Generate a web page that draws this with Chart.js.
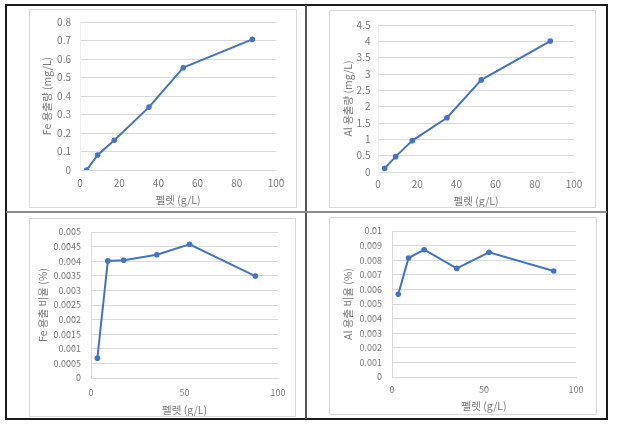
<!DOCTYPE html>
<html>
<head>
<meta charset="utf-8">
<script src="https://cdn.jsdelivr.net/npm/chart.js@4/dist/chart.umd.min.js"></script>
<style>
  html, body { margin: 0; padding: 0; background: #fff; }
  #stage { position: relative; width: 617px; height: 427px; background: #fff; overflow: hidden; }
  .abs { position: absolute; box-sizing: border-box; }
  canvas { position: absolute; }
</style>
</head>
<body>
<div id="stage">
  <div class="abs" style="left:5px;top:4px;width:603px;height:416px;border:2px solid #1a1a1a;"></div>
  <div class="abs" style="left:305px;top:5px;width:2px;height:414px;background:#555;"></div>
  <div class="abs" style="left:6px;top:211px;width:601px;height:2px;background:#8a8a8a;"></div>

  <canvas id="c1" width="268" height="199" style="left:29px;top:9px;"></canvas>
  <canvas id="c2" width="267" height="198" style="left:329px;top:10px;"></canvas>
  <canvas id="c3" width="267" height="199" style="left:29px;top:218px;"></canvas>
  <canvas id="c4" width="268" height="198" style="left:329px;top:217px;"></canvas>

  <div class="abs" style="left:29px;top:9px;width:268px;height:199px;border:1px solid #d9d9d9;"></div>
  <div class="abs" style="left:329px;top:10px;width:267px;height:198px;border:1px solid #d9d9d9;"></div>
  <div class="abs" style="left:29px;top:218px;width:267px;height:199px;border:1px solid #d9d9d9;"></div>
  <div class="abs" style="left:329px;top:217px;width:268px;height:198px;border:1px solid #d9d9d9;"></div>
</div>
<script>
// ---- data ----
const pelletX = [3.4, 9.0, 17.5, 35.2, 52.7, 87.9];           // 펠렛 (g/L)
const feConc  = [0.0, 0.081, 0.161, 0.34, 0.553, 0.706];      // Fe 용출량 (mg/L)
const alConc  = [0.11, 0.47, 0.96, 1.66, 2.82, 4.01];         // Al 용출량 (mg/L)
const feRatio = [0.00068, 0.00401, 0.00403, 0.00422, 0.00458, 0.00349]; // Fe 용출 비율 (%)
const alRatio = [0.00566, 0.00815, 0.00872, 0.00744, 0.00854, 0.00726]; // Al 용출 비율 (%)

const xTicksTop    = ['0', '20', '40', '60', '80', '100'];
const xTicksBottom = ['0', '50', '100'];
const yTicksFeConc = ['0', '0.1', '0.2', '0.3', '0.4', '0.5', '0.6', '0.7', '0.8'];
const yTicksAlConc = ['0', '0.5', '1', '1.5', '2', '2.5', '3', '3.5', '4', '4.5'];
const yTicksFeRatio = ['0', '0.0005', '0.001', '0.0015', '0.002', '0.0025', '0.003', '0.0035', '0.004', '0.0045', '0.005'];
const yTicksAlRatio = ['0', '0.001', '0.002', '0.003', '0.004', '0.005', '0.006', '0.007', '0.008', '0.009', '0.01'];

const xTitle = '펠렛 (g/L)';
const yTitles = ['Fe 용출량 (mg/L)', 'Al 용출량 (mg/L)', 'Fe 용출 비율 (%)', 'Al 용출 비율 (%)'];

const FONT = '"Noto Sans CJK KR", "Noto Sans", sans-serif';
const BLUE = '#4472C4';
const GRID = '#d9d9d9';
const TXT = '#7a7a7a';

function makeChart(id, ys, yTicks, xTicks, ytitle, L) {
  const xt = xTicks.map(parseFloat);
  const yt = yTicks.map(parseFloat);
  new Chart(document.getElementById(id), {
    type: 'line',
    data: {
      datasets: [{
        data: pelletX.map((x, i) => ({ x: x, y: ys[i] })),
        borderColor: BLUE,
        backgroundColor: BLUE,
        borderWidth: 2,
        pointRadius: 2.8,
        pointBorderWidth: 0,
        pointBackgroundColor: BLUE,
        tension: 0
      }]
    },
    options: {
      responsive: false,
      animation: false,
      devicePixelRatio: 1,
      plugins: { legend: { display: false }, tooltip: { enabled: false } },
      layout: { padding: { left: 0, right: L.right, top: L.top, bottom: 0 } },
      scales: {
        x: {
          type: 'linear',
          min: xt[0], max: xt[xt.length - 1],
          grid: { display: false, drawTicks: false },
          border: { display: true, color: GRID, width: 1 },
          afterBuildTicks: s => { s.ticks = xt.map(v => ({ value: v })); },
          afterFit: s => { s.height = L.xh; s.paddingLeft = 0; s.paddingRight = 0; },
          ticks: {
            autoSkip: false, maxRotation: 0, padding: L.xpad,
            color: TXT, font: { family: FONT, size: L.fs },
            callback: (v, i) => xTicks[i]
          },
          title: {
            display: true, text: xTitle, color: TXT,
            font: { family: FONT, size: L.ts },
            padding: { top: 0, bottom: L.xtb }
          }
        },
        y: {
          type: 'linear',
          min: yt[0], max: yt[yt.length - 1],
          grid: { color: GRID, lineWidth: 1, drawTicks: false },
          border: { display: true, color: L.ycol, width: 1 },
          afterBuildTicks: s => { s.ticks = yt.map(v => ({ value: v })); },
          afterFit: s => { s.width = L.left; s.paddingTop = 0; s.paddingBottom = 0; },
          ticks: {
            autoSkip: false, padding: L.ypad,
            color: TXT, font: { family: FONT, size: L.fs },
            callback: (v, i) => yTicks[i]
          },
          title: {
            display: true, text: ytitle, color: TXT,
            font: { family: FONT, size: L.ts },
            padding: { top: L.ytt, bottom: 0 }
          }
        }
      }
    }
  });
}

makeChart('c1', feConc, yTicksFeConc, xTicksTop, yTitles[0],
  { left: 51, right: 21, top: 13, xh: 38, xpad: 7, ypad: 9, fs: 10, ts: 10.5, ytt: 11.4, xtb: 1.7, ycol: '#eeeeee' });
makeChart('c2', alConc, yTicksAlConc, xTicksTop, yTitles[1],
  { left: 49, right: 22, top: 15, xh: 36, xpad: 6, ypad: 7.5, fs: 10, ts: 10.5, ytt: 12.7, xtb: 1, ycol: '#eeeeee' });
makeChart('c3', feRatio, yTicksFeRatio, xTicksBottom, yTitles[2],
  { left: 62, right: 18, top: 14, xh: 39, xpad: 9, ypad: 10, fs: 9, ts: 10.5, ytt: 7.7, xtb: 0.7, ycol: GRID });
makeChart('c4', alRatio, yTicksAlRatio, xTicksBottom, yTitles[3],
  { left: 63, right: 21, top: 14, xh: 38, xpad: 7.6, ypad: 10, fs: 9, ts: 10.5, ytt: 12.7, xtb: 2.4, ycol: GRID });
</script>
</body>
</html>
